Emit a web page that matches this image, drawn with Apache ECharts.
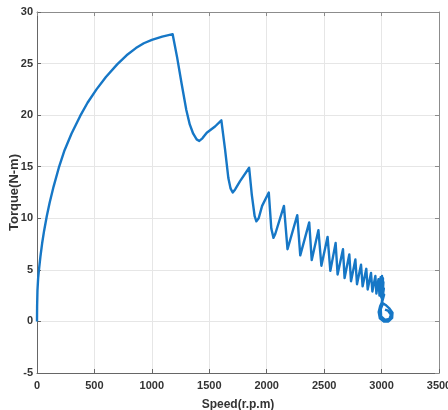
<!DOCTYPE html>
<html>
<head>
<meta charset="utf-8">
<script src="https://cdn.jsdelivr.net/npm/echarts@6/dist/echarts.min.js"></script>
<style>
    html, body {margin: 0; padding: 0; background: #fff;}
    #torque_speed {width: 448px; height: 410px;}
</style>
</head>
<body>
<div id="torque_speed"></div>
<script>
// values: speed (r.p.m) and torque (N-m)
var speed = [
    0, 1, 4, 10, 17, 30, 45, 62, 85, 110, 145, 190, 240, 300, 375, 440, 518, 600, 700, 780, 861, 930, 1000, 1090, 1181,
    1220, 1260, 1300, 1330, 1360, 1390, 1413, 1440, 1478, 1550, 1605,
    1637, 1666, 1685, 1704, 1725, 1768, 1847,
    1870, 1895, 1910, 1930, 1960, 2018,
    2040, 2059, 2075, 2150,
    2181, 2266, 2292, 2370, 2392, 2450, 2476, 2530, 2554, 2600, 2617, 2664, 2678, 2719,
    2734, 2772, 2786, 2821, 2835, 2867, 2879, 2908, 2920, 2946, 2955, 2973,
    2982, 2992, 2998, 3004, 3008, 3012, 3006, 3016, 3002, 3020, 3000, 3022, 3005,
    2988, 2975, 2985, 3020, 3060, 3092, 3095, 3065, 3035, 3012, 2993, 2996, 3030, 3068, 3082, 3055, 3030
];
var torque = [
    0, 1.5, 3.0, 4.2, 5.0, 6.3, 7.6, 8.8, 10.2, 11.5, 13.1, 14.9, 16.6, 18.2, 19.9, 21.2, 22.5, 23.7, 24.95, 25.8, 26.5, 26.97, 27.3, 27.62, 27.85,
    25.6, 23.0, 20.5, 19.1, 18.2, 17.65, 17.5, 17.75, 18.3, 18.9, 19.5,
    16.7, 13.9, 12.9, 12.5, 12.8, 13.6, 14.9,
    12.3, 10.2, 9.7, 10.0, 11.2, 12.5,
    9.0, 8.1, 8.5, 11.2,
    7.0, 10.3, 6.4, 9.6, 5.95, 8.85, 5.4, 8.2, 4.9, 7.6, 4.55, 7.0, 4.2, 6.5,
    3.9, 6.0, 3.6, 5.5, 3.4, 5.1, 3.1, 4.7, 2.9, 4.4, 2.7, 4.1,
    2.5, 4.3, 2.3, 4.4, 2.1, 4.2, 1.9, 3.8, 1.8, 3.2, 1.7, 2.6, 1.9,
    1.5, 0.9, 0.3, 0.0, 0.0, 0.35, 0.85, 1.3, 1.6, 1.75, 1.2, 0.5, 0.15, 0.25, 0.65, 1.05, 1.15
];
var xTicks = [0, 500, 1000, 1500, 2000, 2500, 3000, 3500];
var yTicks = [-5, 0, 5, 10, 15, 20, 25, 30];

function draw_torque_speed(){
    var myChart = echarts.init(document.getElementById("torque_speed"));
    var points = [];
    for (var i = 0; i < speed.length; i++) {
        points.push([speed[i], torque[i]]);
    }
    var narrow = 'Liberation Sans Narrow, Liberation Sans, Arial, sans-serif';
    var plain = function (v) { return String(v); };
    var xStep = xTicks[1] - xTicks[0];
    var yStep = yTicks[1] - yTicks[0];
    var option = {
        animation: false,
        backgroundColor: '#fff',
        grid: {
            left: 37,
            right: 9,
            top: 12,
            bottom: 37,
            containLabel: false,
            outerBoundsMode: 'none'
        },
        xAxis: [{
            type: 'value',
            position: 'bottom',
            min: xTicks[0],
            max: xTicks[xTicks.length - 1],
            interval: xStep,
            name: 'Speed(r.p.m)',
            nameLocation: 'middle',
            nameGap: 26,
            nameMoveOverlap: false,
            nameTextStyle: {color: '#333', fontSize: 12, fontWeight: 'bold', fontFamily: narrow},
            axisLine: {show: true, onZero: false, lineStyle: {color: '#666', width: 1}},
            axisTick: {show: true, inside: true, length: 4, lineStyle: {color: '#666'}},
            axisLabel: {color: '#333', fontSize: 11, fontWeight: 'bold', fontFamily: narrow, margin: 7, formatter: plain},
            splitLine: {show: true, lineStyle: {color: '#e6e6e6', width: 1}}
        }, {
            type: 'value',
            position: 'top',
            min: xTicks[0],
            max: xTicks[xTicks.length - 1],
            interval: xStep,
            axisLine: {show: true, onZero: false, lineStyle: {color: '#8c8c8c', width: 1}},
            axisTick: {show: true, inside: true, length: 4, lineStyle: {color: '#8c8c8c'}},
            axisLabel: {show: false},
            splitLine: {show: false}
        }],
        yAxis: [{
            type: 'value',
            position: 'left',
            min: yTicks[0],
            max: yTicks[yTicks.length - 1],
            interval: yStep,
            name: 'Torque(N-m)',
            nameLocation: 'middle',
            nameRotate: 90,
            nameGap: 16,
            nameMoveOverlap: false,
            nameTextStyle: {color: '#333', fontSize: 13, fontWeight: 'bold', fontFamily: 'Liberation Sans, Arial, sans-serif'},
            axisLine: {show: true, onZero: false, lineStyle: {color: '#666', width: 1}},
            axisTick: {show: true, inside: true, length: 4, lineStyle: {color: '#666'}},
            axisLabel: {color: '#333', fontSize: 11, fontWeight: 'bold', fontFamily: narrow, margin: 4, formatter: plain},
            splitLine: {show: true, lineStyle: {color: '#e6e6e6', width: 1}}
        }, {
            type: 'value',
            position: 'right',
            min: yTicks[0],
            max: yTicks[yTicks.length - 1],
            interval: yStep,
            axisLine: {show: true, onZero: false, lineStyle: {color: '#8c8c8c', width: 1}},
            axisTick: {show: true, inside: true, length: 4, lineStyle: {color: '#8c8c8c'}},
            axisLabel: {show: false},
            splitLine: {show: false}
        }],
        series: [{
            name: 'Torque',
            type: 'line',
            xAxisIndex: 0,
            yAxisIndex: 0,
            data: points,
            showSymbol: false,
            smooth: false,
            lineStyle: {color: '#1677c6', width: 2.4, join: 'round'}
        }]
    };
    myChart.setOption(option);
}

draw_torque_speed();
</script>
</body>
</html>
